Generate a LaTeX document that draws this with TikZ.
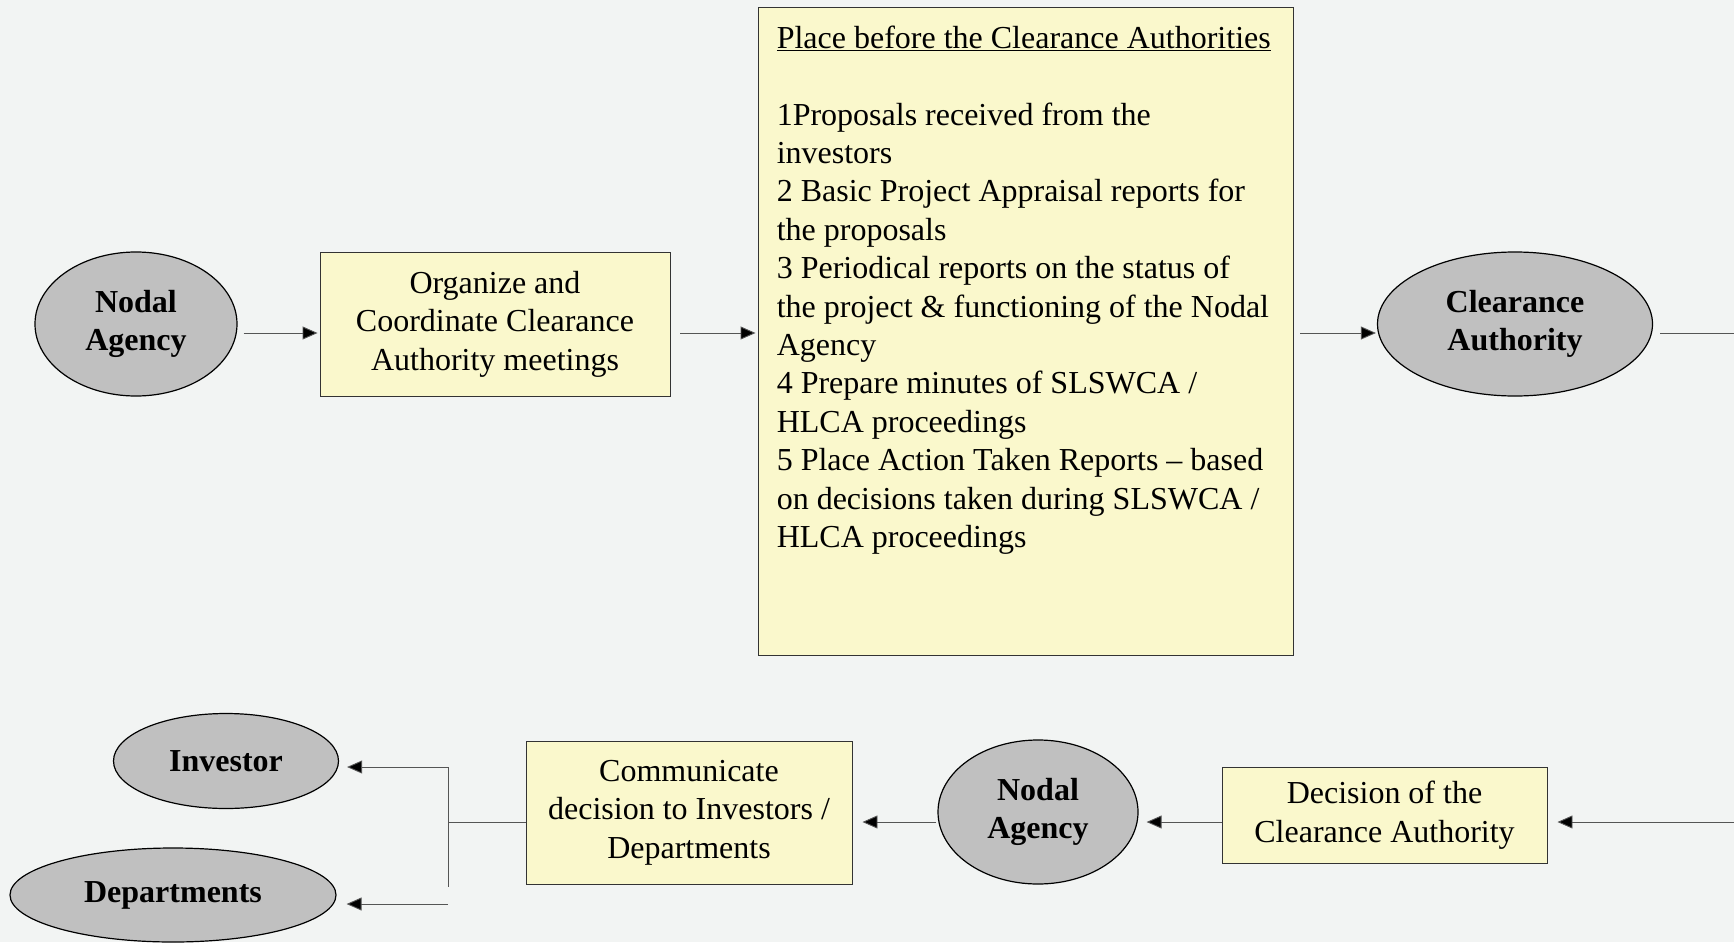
\documentclass[tikz,border=0pt]{standalone}
\usepackage{fontspec}
\setmainfont{Liberation Serif}
\usetikzlibrary{shapes.geometric,arrows.meta,calc}
\definecolor{bgc}{RGB}{242,244,243}
\definecolor{boxfill}{RGB}{250,248,204}
\definecolor{ellfill}{RGB}{192,192,192}
\definecolor{linec}{RGB}{85,85,85}
\definecolor{borderc}{RGB}{51,51,51}
\begin{document}
\begin{tikzpicture}[x=1pt,y=-1pt,
  txt/.style={font=\fontsize{32}{38.4}\selectfont, align=center, text=black},
  ellnode/.style={ellipse, draw=black, line width=1.2pt, fill=ellfill, inner sep=0pt,
    font=\fontsize{32}{38.4}\selectfont\bfseries, align=center},
  boxnode/.style={rectangle, draw=borderc, line width=0.9pt, fill=boxfill, inner sep=0pt, txt},
  conn/.style={draw=linec, line width=0.9pt},
  arr/.style={conn, -{Triangle[length=15pt,width=13pt,fill=black]}}
]
\fill[bgc] (0,0) rectangle (1734,942);
\useasboundingbox (0,0) rectangle (1734,942);

% top row
\node[ellnode, minimum width=202pt, minimum height=144pt] (na1) at (136,324) {Nodal\\Agency};
\node[boxnode, minimum width=350pt, minimum height=144pt] (org) at (495,324)
  {Organize and\\Coordinate Clearance\\Authority meetings};
\node[boxnode, minimum width=535pt, minimum height=648pt] (place) at (1025.5,331) {};
\node[txt, align=left, anchor=north west, inner sep=0pt] (placetxt)
  at ([xshift=19pt,yshift=-19pt]place.north west)
  {\underline{Place before the Clearance Authorities}\\[38.4pt]
   1Proposals received from the\\
   investors\\
   2 Basic Project Appraisal reports for\\
   the proposals\\
   3 Periodical reports on the status of\\
   the project \& functioning of the Nodal\\
   Agency\\
   4 Prepare minutes of SLSWCA /\\
   HLCA proceedings\\
   5 Place Action Taken Reports – based\\
   on decisions taken during SLSWCA /\\
   HLCA proceedings};
\node[ellnode, minimum width=275pt, minimum height=144pt] (ca) at (1515,324) {Clearance\\Authority};
\coordinate (exitR) at (1734,333);

% bottom row
\coordinate (entR) at (1734,822);
\node[boxnode, minimum width=325pt, minimum height=96pt] (dec) at (1384.5,815)
  {Decision of the\\Clearance Authority};
\node[ellnode, minimum width=200pt, minimum height=144pt] (na2) at (1038,812) {Nodal\\Agency};
\node[boxnode, minimum width=326pt, minimum height=143pt] (com) at (689,812.5)
  {Communicate\\decision to Investors /\\Departments};
\node[ellnode, minimum width=225pt, minimum height=95pt] (inv) at (226,761) {Investor};
\node[ellnode, minimum width=326pt, minimum height=94pt] (dep) at (173,895) {Departments};

\coordinate (bm) at (448,822);
\coordinate (bt) at (448,767);
\coordinate (bb) at (448,887);
\coordinate (bd) at (448,904);

% connectors top
\draw[arr, shorten <=6pt, shorten >=2pt] ([yshift=-9pt]na1.east) -- (org.west |- 0,333);
\draw[arr, shorten <=10pt, shorten >=2pt] (org.east |- 0,333) -- (place.west |- 0,333);
\draw[arr, shorten <=7pt, shorten >=2pt] (place.east |- 0,333) -- ($(ca.west)+(1,9)$);
\draw[conn, shorten <=7pt] ([yshift=-9pt]ca.east) -- (exitR);

% connectors bottom
\draw[arr, shorten >=10pt] (entR) -- (dec.east |- entR);
\draw[arr, shorten >=9pt] (dec.west |- entR) -- ($(na2.east)+(-1,10)$);
\draw[arr, shorten <=2pt, shorten >=10pt] ($(na2.west)+(1,10)$) -- (com.east |- entR);
\draw[conn] (com.west |- bm) -- (bm);
\draw[conn] (bt) -- (bb);
\draw[arr, shorten >=8pt] (bt) -- (inv.east |- bt);
\draw[arr, shorten >=13pt] (bd) -- ($(dep.east)+(-3,9)$);
\end{tikzpicture}
\end{document}
